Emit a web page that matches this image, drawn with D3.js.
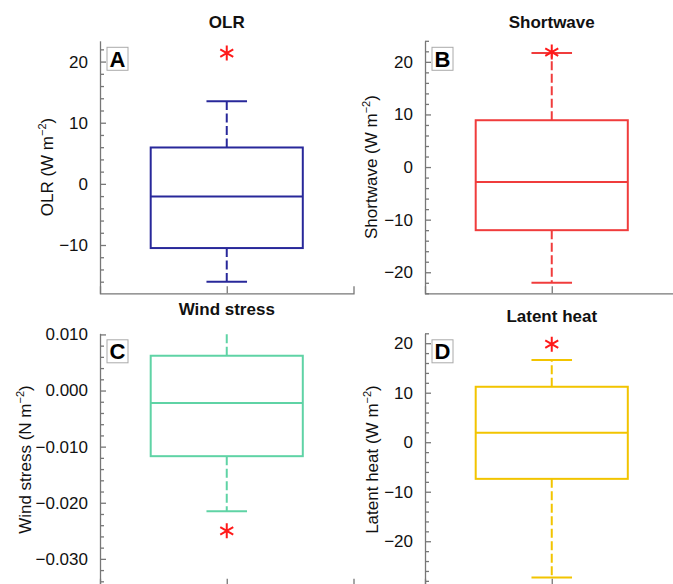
<!DOCTYPE html>
<html>
<head>
<meta charset="utf-8">
<script src="https://cdn.jsdelivr.net/npm/d3@7"></script>
<style>
  html, body { margin: 0; padding: 0; background: #fff; }
  svg { display: block; font-family: "Liberation Sans", Arial, Helvetica, sans-serif; }
</style>
</head>
<body>
<svg id="chart" width="673" height="584"></svg>
<script>
// ---------- data ----------
const titles   = ["OLR", "Shortwave", "Wind stress", "Latent heat"];
const letters  = ["A", "B", "C", "D"];
const yNames   = ["OLR", "Shortwave", "Wind stress", "Latent heat"];
const yUnits   = ["W m", "W m", "N m", "W m"];
const colors   = ["#28289a", "#f03c3c", "#5fd3a5", "#f2c400"];

const whiskerLo = [-16.0, -22.0, -0.0215, -27.3];
const q1        = [-10.5, -12.0, -0.0117, -7.4];
const median    = [-2.05, -2.85, -0.0022, 1.9];
const q3        = [5.95, 8.9, 0.0062, 11.2];
const whiskerHi = [13.5, 21.7, 0.0115, 16.6];
const outliers  = [[21.4], [21.85], [-0.0250], [19.8]];

const yMin = [-17.9, -24, -0.0348, -29.0];
const yMax = [23.4, 24, 0.0102, 22.0];
const majorTicks = [
  [-10, 0, 10, 20],
  [-20, -10, 0, 10, 20],
  [-0.03, -0.02, -0.01, 0, 0.01],
  [-20, -10, 0, 10, 20]
];
const minorStep = [2, 2, 0.002, 2];
const tickFormats = ["d", "d", ".3f", "d"];

// ---------- layout ----------
const svg = d3.select("#chart");
const axisXs = [100, 425, 100, 425];
const tops = [40.8, 40.8, 333.3, 333.3];
const plotH = 252.5, plotW = 253.5;
const titleY = [28.3, 28.3, 315, 321.5];
const yLabelX = [53, 377, 31, 378];
const axisColor = "#777";
const font = 17;

titles.forEach((t, i) => {
  const ax = axisXs[i], top = tops[i], bot = top + plotH;
  const g = svg.append("g");

  const y = d3.scaleLinear().domain([yMin[i], yMax[i]]).range([bot, top]);
  const x = d3.scaleLinear().domain([0, 2]).range([ax, ax + plotW]);

  // clip
  const cid = "clip" + i;
  svg.append("clipPath").attr("id", cid).append("rect")
    .attr("x", ax).attr("y", top).attr("width", plotW).attr("height", plotH);

  const c = colors[i];
  const xc = x(1);
  const pg = g.append("g").attr("clip-path", `url(#${cid})`);

  // whiskers (dashed)
  pg.append("line").attr("x1", xc).attr("x2", xc)
    .attr("y1", y(q3[i])).attr("y2", y(whiskerHi[i]))
    .attr("stroke", c).attr("stroke-width", 2).attr("stroke-dasharray", "9,3.5");
  pg.append("line").attr("x1", xc).attr("x2", xc)
    .attr("y1", y(q1[i])).attr("y2", y(whiskerLo[i]))
    .attr("stroke", c).attr("stroke-width", 2).attr("stroke-dasharray", "9,3.5");
  // caps
  [whiskerHi[i], whiskerLo[i]].forEach(v => {
    pg.append("line").attr("x1", x(0.84)).attr("x2", x(1.16))
      .attr("y1", y(v)).attr("y2", y(v))
      .attr("stroke", c).attr("stroke-width", 2);
  });
  // box
  pg.append("rect").attr("x", x(0.4)).attr("width", x(1.6) - x(0.4))
    .attr("y", y(q3[i])).attr("height", y(q1[i]) - y(q3[i]))
    .attr("fill", "none").attr("stroke", c).attr("stroke-width", 2);
  pg.append("line").attr("x1", x(0.4)).attr("x2", x(1.6))
    .attr("y1", y(median[i])).attr("y2", y(median[i]))
    .attr("stroke", c).attr("stroke-width", 2);

  // outliers (asterisks)
  const r = 7.5, dx = r * Math.cos(Math.PI / 6), dy = r * Math.sin(Math.PI / 6);
  outliers[i].forEach(v => {
    const cy = y(v);
    pg.append("path")
      .attr("d", `M${xc},${cy - r}L${xc},${cy + r}M${xc - dx},${cy - dy}L${xc + dx},${cy + dy}M${xc - dx},${cy + dy}L${xc + dx},${cy - dy}`)
      .attr("stroke", "#ff1a1a").attr("stroke-width", 2).attr("fill", "none");
  });

  // y axis major
  const fmt = d3.format(tickFormats[i]);
  const yAxis = d3.axisLeft(y).tickValues(majorTicks[i]).tickFormat(fmt)
    .tickSizeInner(-6).tickSizeOuter(0).tickPadding(12);
  const ya = g.append("g").attr("transform", `translate(${ax},0)`).call(yAxis);
  ya.selectAll("path, line").attr("stroke", axisColor).attr("stroke-width", 1.3);
  ya.selectAll("text").attr("font-size", font).attr("fill", "#111")
    .attr("font-family", "Liberation Sans, Arial, sans-serif");

  // y axis minor
  const kmin = Math.ceil(yMin[i] / minorStep[i] - 1e-9), kmax = Math.floor(yMax[i] / minorStep[i] + 1e-9);
  const minor = d3.range(kmin, kmax + 1).map(k => +(k * minorStep[i]).toPrecision(10))
    .filter(v => !majorTicks[i].some(m => Math.abs(m - v) < 1e-9));
  const mAxis = d3.axisLeft(y).tickValues(minor).tickFormat("").tickSizeInner(-4).tickSizeOuter(0);
  const ma = g.append("g").attr("transform", `translate(${ax},0)`).call(mAxis);
  ma.select("path").remove();
  ma.selectAll("line").attr("stroke", axisColor).attr("stroke-width", 1.3);

  // x axis
  const xAxis = d3.axisBottom(x).tickValues([1]).tickFormat("").tickSizeInner(-7).tickSizeOuter(-7);
  const xa = g.append("g").attr("transform", `translate(0,${bot})`).call(xAxis);
  xa.selectAll("path, line").attr("stroke", axisColor).attr("stroke-width", 1.3);

  // title
  g.append("text").attr("x", xc).attr("y", titleY[i]).attr("text-anchor", "middle")
    .attr("font-size", font).attr("font-weight", "bold").attr("fill", "#111").text(t);

  // y label
  const yl = g.append("text")
    .attr("transform", `translate(${yLabelX[i]},${(top + bot) / 2}) rotate(-90)`)
    .attr("text-anchor", "middle").attr("font-size", font).attr("fill", "#111");
  yl.append("tspan").text(`${yNames[i]} (${yUnits[i]}`);
  yl.append("tspan").attr("dy", -7).attr("font-size", 11).text("\u22122");
  yl.append("tspan").attr("dy", 7).text(")");

  // panel letter
  g.append("rect").attr("x", ax + 7).attr("y", top + 6.5).attr("width", 21).attr("height", 23)
    .attr("fill", "#fff").attr("stroke", "#aaa").attr("stroke-width", 1);
  g.append("text").attr("x", ax + 17.5).attr("y", top + 26).attr("text-anchor", "middle")
    .attr("font-size", 22).attr("font-weight", "bold").attr("fill", "#000").text(letters[i]);
});
</script>
</body>
</html>
